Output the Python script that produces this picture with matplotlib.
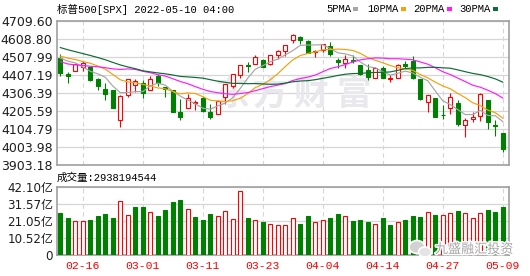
import matplotlib
matplotlib.use('Agg')
import matplotlib.pyplot as plt
import matplotlib.patheffects as pe
from matplotlib.patches import Ellipse
from matplotlib.transforms import IdentityTransform
import numpy as np
import pandas as pd

# ---- data: S&P 500 daily candles, 2022-02-11 .. 2022-05-09 ----
dates = ['02-11', '02-14', '02-15', '02-16', '02-17', '02-18', '02-22', '02-23', '02-24', '02-25', '02-28',
         '03-01', '03-02', '03-03', '03-04', '03-07', '03-08', '03-09', '03-10', '03-11', '03-14', '03-15',
         '03-16', '03-17', '03-18', '03-21', '03-22', '03-23', '03-24', '03-25', '03-28', '03-29', '03-30',
         '03-31', '04-01', '04-04', '04-05', '04-06', '04-07', '04-08', '04-11', '04-12', '04-13', '04-14',
         '04-18', '04-19', '04-20', '04-21', '04-22', '04-25', '04-26', '04-27', '04-28', '04-29',
         '05-02', '05-03', '05-04', '05-05', '05-06', '05-09']

opens = [4506.27, 4412.61, 4429.28, 4455.75, 4456.06, 4384.57, 4332.74, 4324.93, 4155.77, 4298.38, 4354.17,
         4363.14, 4322.56, 4401.31, 4342.12, 4327.01, 4202.66, 4223.10, 4252.55, 4279.50, 4202.75, 4188.82,
         4288.14, 4345.11, 4407.34, 4462.40, 4469.10, 4493.10, 4469.98, 4522.66, 4541.09, 4602.86, 4624.20,
         4599.02, 4540.32, 4547.97, 4572.45, 4494.17, 4474.65, 4494.15, 4462.64, 4437.59, 4394.30, 4449.12,
         4385.63, 4390.63, 4472.26, 4489.17, 4385.83, 4255.34, 4278.14, 4186.52, 4222.58, 4253.75,
         4130.61, 4159.78, 4181.18, 4270.43, 4128.17, 4081.27]
highs = [4526.33, 4426.22, 4472.77, 4489.55, 4456.06, 4394.60, 4362.12, 4324.93, 4294.73, 4385.34, 4388.84,
         4378.45, 4401.48, 4416.78, 4342.12, 4327.01, 4276.94, 4299.40, 4268.28, 4291.01, 4247.57, 4271.05,
         4357.86, 4412.67, 4465.40, 4481.75, 4522.00, 4501.07, 4520.58, 4546.03, 4575.65, 4637.30, 4627.77,
         4603.07, 4548.70, 4583.50, 4593.45, 4503.94, 4521.16, 4520.41, 4464.35, 4471.00, 4453.92, 4460.46,
         4410.31, 4471.03, 4488.29, 4512.94, 4385.83, 4299.02, 4278.14, 4240.71, 4308.45, 4269.68,
         4169.81, 4200.10, 4307.66, 4270.43, 4157.69, 4081.27]
lows = [4401.41, 4364.84, 4429.28, 4429.68, 4373.81, 4327.22, 4267.11, 4221.51, 4114.65, 4286.83, 4315.12,
        4279.54, 4322.56, 4345.56, 4284.98, 4199.85, 4157.87, 4223.10, 4209.80, 4200.49, 4161.72, 4187.90,
        4246.91, 4335.65, 4390.57, 4424.30, 4469.10, 4455.81, 4465.17, 4501.07, 4517.69, 4589.66, 4581.32,
        4530.41, 4507.57, 4539.21, 4514.17, 4450.04, 4450.30, 4474.60, 4408.38, 4381.34, 4392.70, 4390.77,
        4370.30, 4390.63, 4448.76, 4384.47, 4267.62, 4200.82, 4175.04, 4162.90, 4188.63, 4124.28,
        4062.51, 4147.08, 4148.91, 4106.01, 4067.91, 3975.48]
closes = [4418.64, 4401.67, 4471.07, 4475.01, 4380.26, 4348.87, 4304.76, 4225.50, 4288.70, 4384.65, 4373.94,
          4306.26, 4386.54, 4363.49, 4328.87, 4201.09, 4170.70, 4277.88, 4259.52, 4204.31, 4173.11, 4262.45,
          4357.86, 4411.67, 4463.12, 4461.18, 4511.61, 4456.24, 4520.16, 4543.06, 4575.52, 4631.60, 4602.45,
          4530.41, 4545.86, 4582.64, 4525.12, 4481.15, 4500.21, 4488.28, 4412.53, 4397.45, 4446.59, 4392.59,
          4391.69, 4462.21, 4459.45, 4393.66, 4271.78, 4296.12, 4175.20, 4183.96, 4287.50, 4131.93,
          4155.38, 4175.48, 4300.17, 4146.87, 4123.34, 3991.24]

# closes before the window (2021-12-31 .. 2022-02-10), only needed for the moving averages
prior_closes = [4766.18, 4796.56, 4793.54, 4700.58, 4696.05, 4677.03, 4670.29, 4713.07, 4726.35, 4659.03,
                4662.85, 4577.11, 4532.76, 4482.73, 4397.94, 4410.13, 4356.45, 4349.93, 4326.51, 4431.85,
                4515.55, 4546.54, 4589.38, 4477.44, 4500.53, 4483.87, 4521.54, 4587.18, 4504.08]

# volume in 亿, last one is the exact figure from the header
last_volume = 2938194544
volumes = [26.1, 23.1, 21.0, 21.0, 21.9, 24.1, 25.3, 22.9, 33.3, 24.7, 29.6,
           29.6, 26.6, 24.1, 27.8, 32.9, 34.0, 28.4, 23.5, 21.7, 25.3, 24.1,
           27.2, 22.3, 39.5, 22.9, 21.7, 20.6, 19.0, 18.4, 18.4, 22.7, 19.2,
           24.1, 20.4, 21.7, 22.9, 25.3, 23.9, 21.0, 21.7, 20.4, 19.2, 22.9,
           18.6, 20.2, 21.7, 24.1, 23.5, 26.6, 24.7, 24.7, 26.0, 27.2,
           26.0, 22.7, 26.0, 27.8, 26.6, last_volume / 1e8]

price_ticks = [3903.18, 4003.98, 4104.79, 4205.59, 4306.39, 4407.19, 4507.99, 4608.80, 4709.60]
vol_ticks = [0, 10.52, 21.05, 31.57, 42.10]
vol_tick_labels = ['0', '10.52亿', '21.05亿', '31.57亿', '42.10亿']
date_ticks = ['02-16', '03-01', '03-11', '03-23', '04-04', '04-14', '04-27', '05-09']

ma_periods = [5, 10, 20, 30]
ma_names = ['5PMA', '10PMA', '20PMA', '30PMA']
ma_colors = ['#a6a6a6', '#f2a20c', '#ff1aff', '#0d6b33']

RED = '#ff0000'
GREEN = '#008000'
GRID = '#d6d6d6'
FRAME = '#a0a0a0'
TXT = '#1e1e1e'

W, H = 530, 276


def fx(x):
    return x / W


def fy(y):
    return 1 - y / H


fig = plt.figure(figsize=(W / 100, H / 100), dpi=100)
fig.patch.set_facecolor('white')

ax = fig.add_axes([fx(56.7), fy(165.2), fx(509) - fx(56.7), fy(21.3) - fy(165.2)])
axv = fig.add_axes([fx(56.7), fy(255.3), fx(509) - fx(56.7), fy(186.7) - fy(255.3)])

x = np.arange(len(dates))
tick_pos = [dates.index(d) for d in date_ticks]

# ---- candles ----
body_w = 0.56
for i in x:
    o, h, l, c = opens[i], highs[i], lows[i], closes[i]
    up = c > o
    col = RED if up else GREEN
    ax.vlines(i, l, h, color=col, lw=0.8, zorder=2)
    ax.bar(i, max(abs(c - o), 1.0), bottom=min(o, c), width=body_w,
           facecolor='white' if up else GREEN, edgecolor=col, lw=0.8, zorder=3)

# ---- moving averages ----
all_close = pd.Series(prior_closes + closes)
for n, name, col in zip(ma_periods, ma_names, ma_colors):
    ma = all_close.rolling(n).mean().to_numpy()[len(prior_closes):]
    ax.plot(x, ma, color=col, lw=0.85, zorder=4)

# ---- volume ----
prev_close = [prior_closes[-1]] + closes[:-1]
for i in x:
    up = closes[i] > prev_close[i]
    axv.bar(i, volumes[i], width=0.56, facecolor='white' if up else GREEN,
            edgecolor=RED if up else GREEN, lw=0.8, zorder=3)

# ---- axes styling ----
for a in (ax, axv):
    a.set_xlim(-0.48, 59.83)
    a.set_xticks(tick_pos)
    a.grid(axis='y', color=GRID, lw=0.9, ls='-')
    a.grid(axis='x', color=GRID, lw=0.8, ls=(0, (4, 3)))
    a.set_axisbelow(True)
    a.tick_params(length=0)
    for s in a.spines.values():
        s.set_color(FRAME)
        s.set_linewidth(1.2)

ax.set_ylim(price_ticks[0], price_ticks[-1])
ax.set_yticks(price_ticks)
ax.set_yticklabels([f'{v:.2f}' for v in price_ticks], fontsize=9, color=TXT, family='DejaVu Sans')
ax.tick_params(axis='y', pad=3)
ax.set_xticklabels([])

axv.set_ylim(0, vol_ticks[-1])
axv.set_yticks(vol_ticks)
axv.set_yticklabels(vol_tick_labels, fontsize=8.6, color=TXT, family=['DejaVu Sans', 'Noto Sans CJK SC'])
axv.tick_params(axis='y', pad=2.5)
axv.set_xticklabels(date_ticks, fontsize=8.2, color=RED, family=['Liberation Mono', 'DejaVu Sans Mono'])
axv.tick_params(axis='x', pad=4)

# ---- watermark ----
for ch, px in zip('东方财富', [232, 270, 311, 354]):
    ax.text(fx(px), fy(94), ch, transform=fig.transFigure, ha='center', va='center',
            fontsize=25, fontweight='bold', color='#e8e8ed', family='Noto Sans CJK SC', zorder=1.5)

# ---- header texts ----
mono = ['Liberation Mono', 'Noto Sans CJK SC']
fig.text(fx(57), fy(9.5), '标普500[SPX] 2022-05-10 04:00', fontsize=7.6, color='black',
         family=mono, ha='left', va='center')
fig.text(fx(57), fy(177.5), f'成交量:{last_volume}', fontsize=7.6, color='black',
         family=mono, ha='left', va='center')

legend_x = [326, 367, 413, 459]
for name, col, lx in zip(ma_names, ma_colors, legend_x):
    fig.text(fx(lx), fy(9.5), name, fontsize=7.6, color='black', family=mono,
             ha='left', va='center')
    sq_x = lx + len(name) * 6.3 + 2
    fig.add_artist(plt.Rectangle((sq_x, H - 11), 5, 4, transform=IdentityTransform(),
                                 facecolor=col, edgecolor='none'))

# ---- wechat overlay, bottom right ----
fig.add_artist(Ellipse((417, H - 247), 16, 13, transform=IdentityTransform(),
                       facecolor='#d2d2d2', edgecolor='white', lw=1.2, zorder=5))
fig.add_artist(Ellipse((425, H - 252), 13, 10, transform=IdentityTransform(),
                       facecolor='#e4e4e4', edgecolor='white', lw=1.2, zorder=5))
fig.text(fx(474), fy(249.5), '九盛融汇投资', fontsize=9.4, color='#a6a6a6', family='Noto Sans CJK SC',
         ha='center', va='center', zorder=6,
         path_effects=[pe.withStroke(linewidth=2.2, foreground='white')])

fig.savefig('out.png', dpi=100, facecolor='white')
